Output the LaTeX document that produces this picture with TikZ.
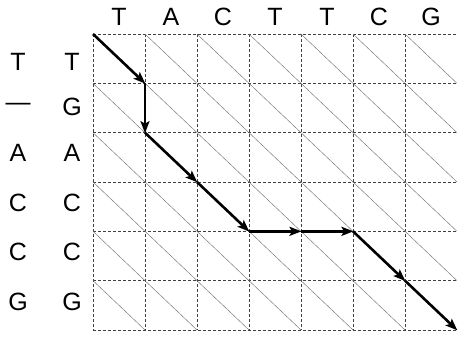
\documentclass[tikz,border=0pt]{standalone}
\usepackage{fontspec}
\setmainfont{Liberation Sans}
\usetikzlibrary{arrows.meta}
\begin{document}
\begin{tikzpicture}[x=1pt,y=-1pt,
  gridline/.style={draw=black!75, line width=0.7pt, dash pattern=on 3pt off 2pt},
  diag/.style={draw=black!55, line width=0.45pt},
  patharrow/.style={-{Stealth[length=12pt,width=9pt,inset=2.5pt]}, line width=2.6pt, shorten >=-0.5pt},
  lbl/.style={font=\fontsize{25}{25}\selectfont, inner sep=0pt, anchor=center}]
\useasboundingbox (0,0) rectangle (457,338);
\def\cw{52}
\def\rh{49.33}
% grid
\foreach \i in {0,...,6} \draw[gridline] ({93+\cw*\i},34) -- ({93+\cw*\i},330);
\foreach \j in {0,...,6} \draw[gridline] (93,{34+\rh*\j}) -- (457,{34+\rh*\j});
% diagonals
\foreach \i in {0,...,6} \foreach \j in {0,...,5}
  \draw[diag] ({93+\cw*\i},{34+\rh*\j}) -- ({93+\cw*(\i+1)},{34+\rh*(\j+1)});
% top labels
\foreach \l [count=\k from 0] in {T,A,C,T,T,C,G}
  \node[lbl] (top\k) at ({119+\cw*\k},17) {\l};
% left labels
\foreach \a/\b/\y [count=\k from 0] in {T/T/62,—/G/107,A/A/153,C/C/203,C/C/252,G/G/302}{
  \node[lbl] (la\k) at (18,\y) {\a};
  \node[lbl] (lb\k) at (72,\y) {\b};
}
% path
\coordinate (p0) at (93,34);
\coordinate (p1) at (145,83.33);
\coordinate (p2) at (145,132.67);
\coordinate (p3) at (197,182);
\coordinate (p4) at (249,231.33);
\coordinate (p5) at (301,231.33);
\coordinate (p6) at (353,231.33);
\coordinate (p7) at (405,280.67);
\coordinate (p8) at (457,330);
\foreach \a/\b in {p0/p1,p1/p2,p2/p3,p3/p4,p4/p5,p5/p6,p6/p7,p7/p8}
  \draw[patharrow] (\a) -- (\b);
\end{tikzpicture}
\end{document}
